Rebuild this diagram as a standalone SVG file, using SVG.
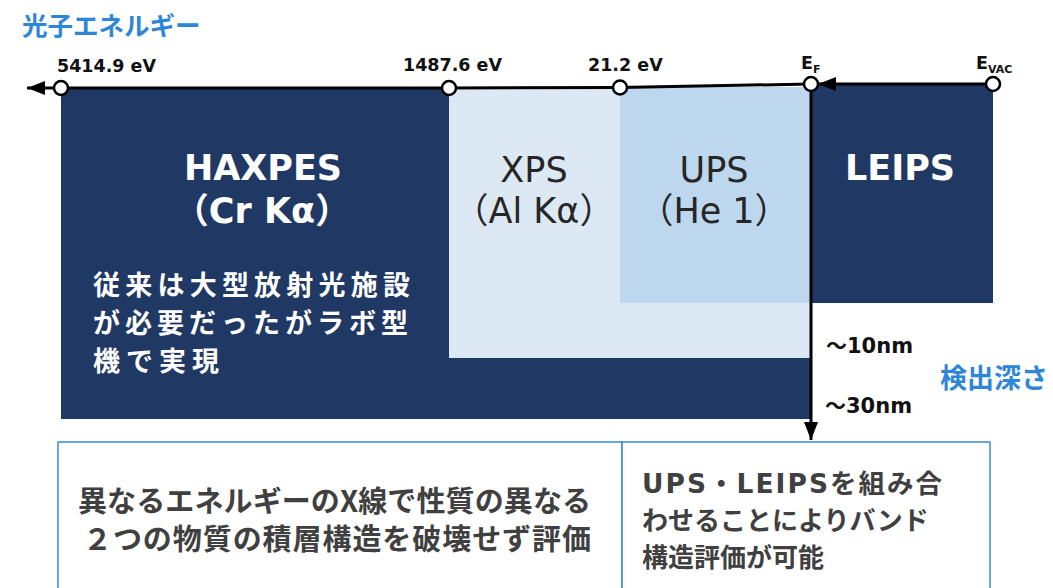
<svg xmlns="http://www.w3.org/2000/svg" width="1053" height="588" viewBox="0 0 1053 588">
<style>
.lat{font-family:"DejaVu Sans","Noto Sans CJK JP",sans-serif}
.jp{font-family:"Noto Sans CJK JP","DejaVu Sans",sans-serif;font-weight:bold}
.b{font-weight:bold}
.navy{fill:#203864}
.wt{fill:#ffffff}
.dk{fill:#262626}
.blue{fill:#2e86d6}
.gray{fill:#404040}
.scale{font-size:17.5px;font-weight:bold;fill:#111111}
.band{font-size:35px;text-anchor:middle}
.box{fill:#ffffff;stroke:#3d8bd0;stroke-width:1.5}
.axis{fill:none;stroke:#000000;stroke-width:3}
.dot{fill:#ffffff;stroke:#000000;stroke-width:2.5}
</style>
<defs>
<marker id="arr" viewBox="0 0 18 14" refX="18" refY="7" markerWidth="18" markerHeight="14" markerUnits="userSpaceOnUse" orient="auto">
<path d="M0,0 L18,7 L0,14 z" fill="#000000"/>
</marker>
</defs>
<rect width="1053" height="588" fill="#ffffff"/>

<g id="title">
<text class="jp blue" x="22" y="35" font-size="25.5">光子エネルギー</text>
</g>

<g id="haxpes">
<rect class="navy" x="61" y="88" width="750" height="331"/>
<text class="lat b wt band" x="263" y="180">HAXPES</text>
<text class="lat b wt band" x="262" y="223">（Cr Kα）</text>
<text class="jp wt" x="93" y="295" font-size="27" textLength="317" lengthAdjust="spacing">従来は大型放射光施設</text>
<text class="jp wt" x="93" y="333" font-size="27" textLength="315" lengthAdjust="spacing">が必要だったがラボ型</text>
<text class="jp wt" x="93" y="371" font-size="27" textLength="126" lengthAdjust="spacing">機で実現</text>
</g>

<g id="xps">
<rect x="449" y="88" width="362" height="270" fill="#dde8f5"/>
<text class="lat dk band" x="534" y="182">XPS</text>
<text class="lat dk band" x="534" y="223">（Al Kα）</text>
</g>

<g id="ups">
<rect x="620" y="87" width="191" height="216" fill="#bdd7ee"/>
<text class="lat dk band" x="714" y="182">UPS</text>
<text class="lat dk band" x="714" y="223">（He 1）</text>
</g>

<g id="leips">
<rect class="navy" x="811" y="85" width="182" height="218"/>
<text class="lat b wt band" x="900" y="180">LEIPS</text>
</g>

<g id="scale-labels">
<text class="lat scale" x="57" y="72">5414.9 eV</text>
<text class="lat scale" x="403" y="71">1487.6 eV</text>
<text class="lat scale" x="588" y="71">21.2 eV</text>
<text class="lat scale" x="801" y="69">E<tspan font-size="11" dy="4">F</tspan></text>
<text class="lat scale" x="976" y="69">E<tspan font-size="11" dy="4">VAC</tspan></text>
</g>

<g id="depth-labels">
<text class="lat b" x="826" y="353" font-size="21" fill="#111111">～10nm</text>
<text class="lat b" x="825" y="413" font-size="21" fill="#111111">～30nm</text>
<text class="jp blue" x="940" y="388" font-size="27">検出深さ</text>
</g>

<g id="box-left">
<rect class="box" x="58" y="442" width="564" height="160"/>
<text class="jp gray" x="78" y="512" font-size="29" textLength="513" lengthAdjust="spacing">異なるエネルギーのX線で性質の異なる</text>
<text class="jp gray" x="83" y="550" font-size="29" textLength="508" lengthAdjust="spacing">２つの物質の積層構造を破壊せず評価</text>
</g>

<g id="box-right">
<rect class="box" x="622" y="442" width="368" height="160"/>
<text class="lat b gray" x="642" y="493" font-size="26.5" textLength="300" lengthAdjust="spacing">UPS・LEIPSを組み合</text>
<text class="jp gray" x="642" y="530" font-size="26">わせることによりバンド</text>
<text class="jp gray" x="642" y="567" font-size="26">構造評価が可能</text>
</g>

<g id="connectors">
<polyline class="axis" points="61,88 449,88 620,87.5 811,84"/>
<line class="axis" x1="61" y1="88" x2="27" y2="88" marker-end="url(#arr)"/>
<line class="axis" x1="993" y1="84" x2="818" y2="84" marker-end="url(#arr)"/>
<line class="axis" x1="811" y1="84" x2="811" y2="440" marker-end="url(#arr)"/>
<circle class="dot" cx="61" cy="88" r="7"/>
<circle class="dot" cx="449" cy="88" r="7"/>
<circle class="dot" cx="620" cy="87.5" r="7"/>
<circle class="dot" cx="811" cy="84" r="7"/>
<circle class="dot" cx="993" cy="84" r="7"/>
</g>
</svg>
